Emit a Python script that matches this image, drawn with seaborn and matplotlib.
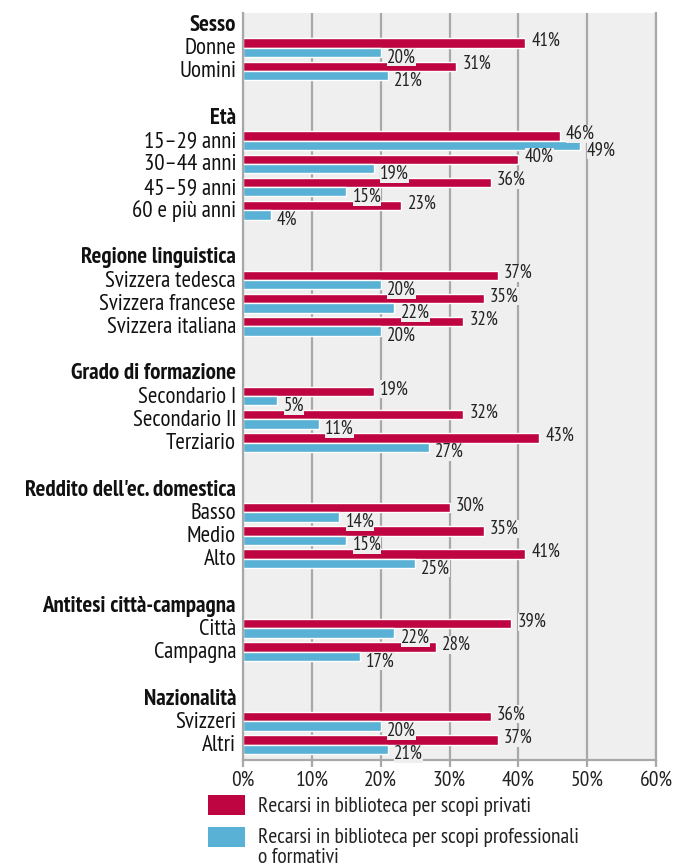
import numpy as np
import pandas as pd
import matplotlib
matplotlib.use("Agg")
import matplotlib.pyplot as plt
import matplotlib.transforms as mtransforms
from matplotlib.patches import Patch
from matplotlib import font_manager as fm
import seaborn as sns

# ---- data ----
group_names = ["Sesso", "Età", "Regione linguistica", "Grado di formazione",
               "Reddito dell'ec. domestica", "Antitesi città-campagna", "Nazionalità"]
group_items = [
    ["Donne", "Uomini"],
    ["15–29 anni", "30–44 anni", "45–59 anni", "60 e più anni"],
    ["Svizzera tedesca", "Svizzera francese", "Svizzera italiana"],
    ["Secondario I", "Secondario II", "Terziario"],
    ["Basso", "Medio", "Alto"],
    ["Città", "Campagna"],
    ["Svizzeri", "Altri"],
]
privati = [41, 31, 46, 40, 36, 23, 37, 35, 32, 19, 32, 43, 30, 35, 41, 39, 28, 36, 37]
professionali = [20, 21, 49, 19, 15, 4, 20, 22, 20, 5, 11, 27, 14, 15, 25, 22, 17, 20, 21]
series_names = ["Recarsi in biblioteca per scopi privati",
                "Recarsi in biblioteca per scopi professionali\no formativi"]
x_ticks = [0, 10, 20, 30, 40, 50, 60]
x_ticklabels = ["0%", "10%", "20%", "30%", "40%", "50%", "60%"]

RED = "#BE0541"
BLUE = "#5AB1D6"
BG = "#EFEFEF"

# ---- build row order ----
order = []
items_flat = []
for gi, (g, items) in enumerate(zip(group_names, group_items)):
    if gi > 0:
        order.append(" " * gi)
    order.append(g)
    order.extend(items)
    items_flat.extend(items)

df = pd.DataFrame({
    "cat": items_flat * 2,
    "val": privati + professionali,
    "serie": [series_names[0]] * len(items_flat) + [series_names[1]] * len(items_flat),
})

sns.set_theme(style="white")
FONT = ["PT Sans Narrow", "DejaVu Sans"]
plt.rcParams["font.family"] = FONT

bold_fams = {f.name for f in fm.fontManager.ttflist if f.weight in (700, "bold")}
BOLD_FONT = [n for n in ["PT Sans Narrow", "Fira Sans Condensed", "IBM Plex Sans Condensed",
                         "Barlow Semi Condensed", "Liberation Sans"] if n in bold_fams][:1] + ["DejaVu Sans"]

fig = plt.figure(figsize=(6.74, 8.67), dpi=100)
ax = fig.add_axes([243 / 674, 1 - 760 / 867, (656 - 243) / 674, (760 - 13) / 867])
ax.set_facecolor(BG)

sns.barplot(data=df, x="val", y="cat", hue="serie", order=order,
            hue_order=series_names, palette=[RED, BLUE], orient="h",
            width=0.8, saturation=1, ax=ax, legend=False, errorbar=None)

for ci, c in enumerate(ax.containers):
    labels = ["" if np.isnan(v) else f"{v:.0f}%" for v in c.datavalues]
    texts = ax.bar_label(c, labels=labels, padding=4.5, fontsize=13.5, color="#222222",
                         bbox=dict(boxstyle="square,pad=0.0", fc=BG, ec="none"))
    for t in texts:
        t.xyann = (t.xyann[0], 1.6 if ci == 0 else -3.6)

ax.set_xlim(0, 60)
ax.set_ylim(len(order) - 0.335, -0.495)
ax.set_xticks(x_ticks)
ax.set_xticklabels(x_ticklabels, fontsize=15.5, color="#222222")
ax.grid(axis="x", color="#A8A8A8", linewidth=1.6)
ax.set_axisbelow(True)
ax.set_xlabel("")
ax.set_ylabel("")

ax.spines["top"].set_visible(False)
for s in ["left", "right", "bottom"]:
    ax.spines[s].set_color("#A8A8A8")
    ax.spines[s].set_linewidth(1.6)

ax.tick_params(axis="x", which="both", bottom=True, length=5, width=1.6,
               color="#A8A8A8", pad=3)
ax.tick_params(axis="y", left=False, length=0, pad=5)

shift = mtransforms.ScaledTranslation(0, 1.5 / 100, fig.dpi_scale_trans)
for lab in ax.get_yticklabels():
    lab.set_fontsize(16.5)
    lab.set_color("#111111")
    if lab.get_text() in group_names:
        lab.set_family(BOLD_FONT)
        lab.set_fontweight("bold")
    lab.set_transform(lab.get_transform() + shift)

handles = [Patch(facecolor=RED, edgecolor="none"), Patch(facecolor=BLUE, edgecolor="none")]
leg = fig.legend(handles, series_names, loc="upper left",
                 bbox_to_anchor=(208 / 674, 1 - 795 / 867), frameon=False,
                 fontsize=15.5, handlelength=1.72, handleheight=1.02, handletextpad=0.6,
                 labelspacing=0.55, borderaxespad=0, borderpad=0)
for t in leg.get_texts():
    t.set_color("#222222")
    t.set_linespacing(1.05)
# align the second square with the first line of its two-line label
h2 = leg.legend_handles[1]
h2.set_y(h2.get_y() + 7.5)

fig.savefig("out.png", dpi=100)
